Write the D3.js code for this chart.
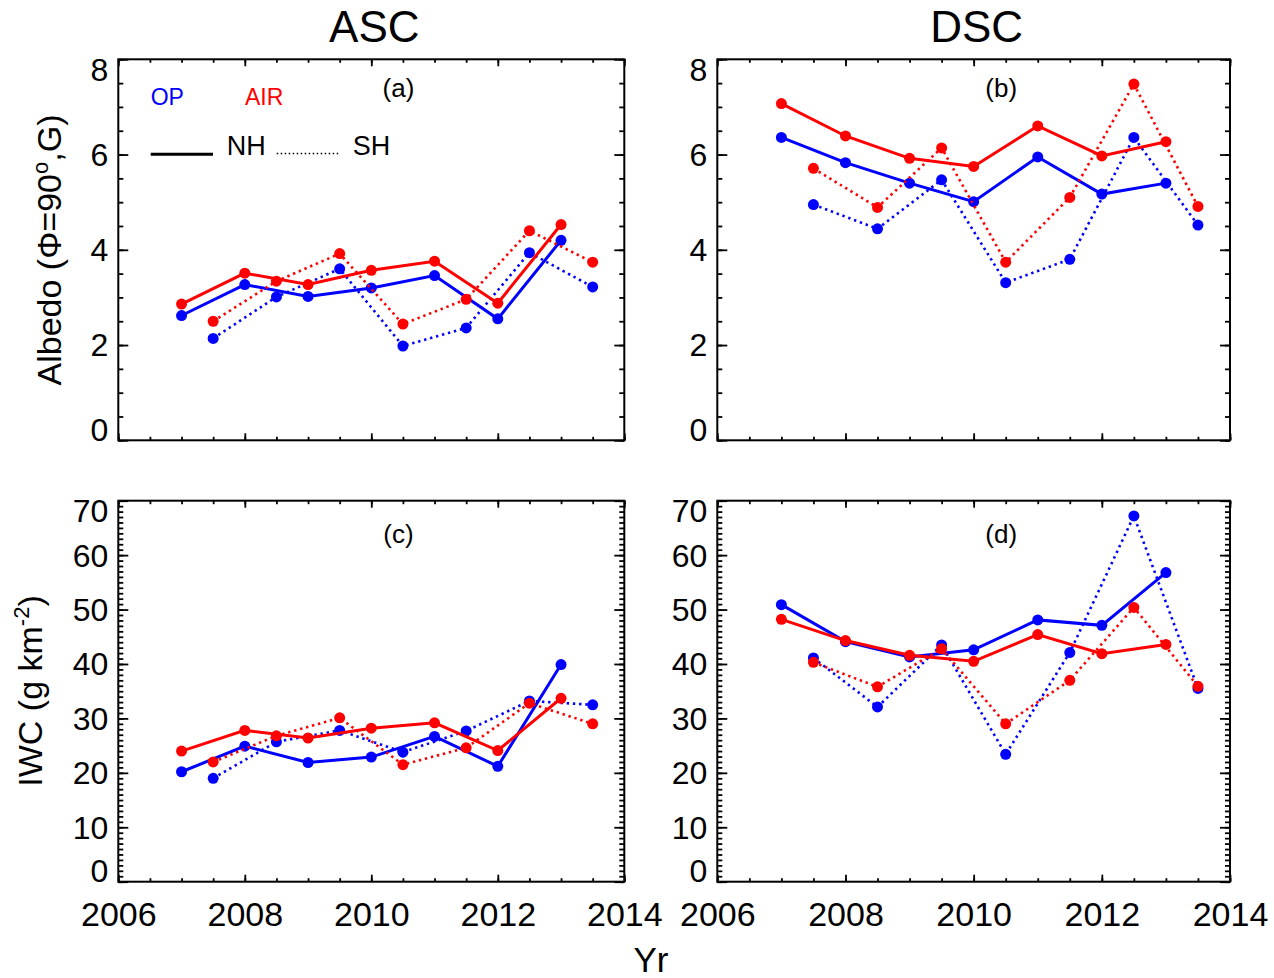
<!DOCTYPE html>
<html>
<head>
<meta charset="utf-8">
<script src="https://cdn.jsdelivr.net/npm/d3@7"></script>
<style>
  body { margin: 0; background: #fff; }
  text { font-family: "Liberation Sans", Arial, Helvetica, sans-serif; }
</style>
</head>
<body>
<div id="chart"></div>
<script>
// years: NH values sit on whole years, SH values on half years
var yearsNH = [2007, 2008, 2009, 2010, 2011, 2012, 2013];
var yearsSH = [2007.5, 2008.5, 2009.5, 2010.5, 2011.5, 2012.5, 2013.5];

// (a) albedo, ASC
var albAscOpNH  = [2.62, 3.27, 3.02, 3.20, 3.46, 2.55, 4.20];
var albAscAirNH = [2.86, 3.51, 3.27, 3.57, 3.76, 2.88, 4.53];
var albAscOpSH  = [2.14, 3.01, 3.60, 1.98, 2.36, 3.94, 3.22];
var albAscAirSH = [2.50, 3.34, 3.92, 2.44, 2.96, 4.40, 3.74];

// (b) albedo, DSC
var albDscOpNH  = [6.36, 5.83, 5.40, 5.01, 5.95, 5.17, 5.40];
var albDscAirNH = [7.07, 6.39, 5.92, 5.75, 6.60, 5.97, 6.27];
var albDscOpSH  = [4.95, 4.44, 5.47, 3.31, 3.80, 6.36, 4.52];
var albDscAirSH = [5.71, 4.89, 6.14, 3.74, 5.10, 7.48, 4.91];

// (c) IWC, ASC
var iwcAscOpNH  = [20.2, 24.9, 21.9, 22.9, 26.7, 21.2, 39.9];
var iwcAscAirNH = [24.0, 27.8, 26.4, 28.2, 29.2, 24.1, 33.7];
var iwcAscOpSH  = [19.0, 25.7, 27.8, 23.8, 27.7, 33.2, 32.5];
var iwcAscAirSH = [22.0, 26.8, 30.1, 21.5, 24.6, 32.8, 29.0];

// (d) IWC, DSC
var iwcDscOpNH  = [50.9, 44.1, 41.3, 42.6, 48.1, 47.1, 56.8];
var iwcDscAirNH = [48.2, 44.3, 41.6, 40.5, 45.4, 41.9, 43.6];
var iwcDscOpSH  = [41.1, 32.1, 43.5, 23.4, 42.1, 67.2, 35.5];
var iwcDscAirSH = [40.3, 35.8, 42.8, 29.0, 37.0, 50.4, 35.9];

// tick labels
var xTicks = [2006, 2008, 2010, 2012, 2014];
var albTicks = [0, 2, 4, 6, 8];
var iwcTicks = [0, 10, 20, 30, 40, 50, 60, 70];
var colTitles = ["ASC", "DSC"];
var panelTags = ["(a)", "(b)", "(c)", "(d)"];

var svgWidth = 1274;
var svgHeight = 978;

var BLUE = "#0000ff";
var RED = "#ff0000";

var svg = d3.select("#chart")
  .append("svg")
  .attr("width", svgWidth)
  .attr("height", svgHeight);

// panel boxes (pixels)
var cols = [{ left: 118.3, right: 624.3 }, { left: 717.3, right: 1230 }];
var rows = [{ top: 59.3, bottom: 440.3 }, { top: 500.7, bottom: 881.7 }];

var panels = [
  { col: 0, row: 0, tag: panelTags[0], yMax: 8, yTicks: albTicks, yMinor: 0.5, tagY: 7.2,
    series: [[yearsNH, albAscOpNH, BLUE, false], [yearsSH, albAscOpSH, BLUE, true],
             [yearsNH, albAscAirNH, RED, false], [yearsSH, albAscAirSH, RED, true]] },
  { col: 1, row: 0, tag: panelTags[1], yMax: 8, yTicks: albTicks, yMinor: 0.5, tagY: 7.2,
    series: [[yearsNH, albDscOpNH, BLUE, false], [yearsSH, albDscOpSH, BLUE, true],
             [yearsNH, albDscAirNH, RED, false], [yearsSH, albDscAirSH, RED, true]] },
  { col: 0, row: 1, tag: panelTags[2], yMax: 70, yTicks: iwcTicks, yMinor: 1, tagY: 62.3,
    series: [[yearsNH, iwcAscOpNH, BLUE, false], [yearsSH, iwcAscOpSH, BLUE, true],
             [yearsNH, iwcAscAirNH, RED, false], [yearsSH, iwcAscAirSH, RED, true]] },
  { col: 1, row: 1, tag: panelTags[3], yMax: 70, yTicks: iwcTicks, yMinor: 1, tagY: 62.3,
    series: [[yearsNH, iwcDscOpNH, BLUE, false], [yearsSH, iwcDscOpSH, BLUE, true],
             [yearsNH, iwcDscAirNH, RED, false], [yearsSH, iwcDscAirSH, RED, true]] }
];

var xMinorVals = d3.range(2006, 2014.01, 0.5);

function styleAxis(g, size) {
  g.select(".domain").remove();
  g.selectAll(".tick line").attr("stroke", "#000").attr("stroke-width", 1.8);
  g.selectAll(".tick text")
    .attr("fill", "#000")
    .attr("font-size", size)
    .attr("font-family", "'Liberation Sans', Arial, Helvetica, sans-serif");
}

panels.forEach(function(p) {
  var c = cols[p.col], r = rows[p.row];
  var x = d3.scaleLinear().domain([2006, 2014]).range([c.left, c.right]);
  var y = d3.scaleLinear().domain([0, p.yMax]).range([r.bottom, r.top]);
  var yMinorVals = d3.range(0, p.yMax + 0.001, p.yMinor);
  var g = svg.append("g");

  // x axes, ticks pointing inward
  g.append("g").attr("transform", `translate(0, ${r.bottom})`)
    .call(d3.axisBottom(x).tickValues(xMinorVals).tickSize(-3.5).tickSizeOuter(0).tickFormat(""))
    .call(styleAxis, 34);
  g.append("g").attr("transform", `translate(0, ${r.bottom})`)
    .call(d3.axisBottom(x).tickValues(xTicks).tickSize(-7).tickSizeOuter(0).tickPadding(20)
      .tickFormat(p.row === 1 ? d3.format("d") : ""))
    .call(styleAxis, 34);
  g.append("g").attr("transform", `translate(0, ${r.top})`)
    .call(d3.axisTop(x).tickValues(xMinorVals).tickSize(-3.5).tickSizeOuter(0).tickFormat(""))
    .call(styleAxis, 34);
  g.append("g").attr("transform", `translate(0, ${r.top})`)
    .call(d3.axisTop(x).tickValues(xTicks).tickSize(-7).tickSizeOuter(0).tickFormat(""))
    .call(styleAxis, 34);

  // y axes
  g.append("g").attr("transform", `translate(${c.left}, 0)`)
    .call(d3.axisLeft(y).tickValues(yMinorVals).tickSize(-5).tickSizeOuter(0).tickFormat(""))
    .call(styleAxis, 32);
  var yl = g.append("g").attr("transform", `translate(${c.left}, 0)`)
    .call(d3.axisLeft(y).tickValues(p.yTicks).tickSize(-10).tickSizeOuter(0).tickPadding(10)
      .tickFormat(d3.format("d")))
    .call(styleAxis, 32);
  // end labels are kept inside the box
  yl.selectAll(".tick text").attr("dy", function(d) {
    if (d === p.yMax) return "0.66em";
    if (d === 0) return "0em";
    return "0.34em";
  });
  g.append("g").attr("transform", `translate(${c.right}, 0)`)
    .call(d3.axisRight(y).tickValues(yMinorVals).tickSize(-5).tickSizeOuter(0).tickFormat(""))
    .call(styleAxis, 32);
  g.append("g").attr("transform", `translate(${c.right}, 0)`)
    .call(d3.axisRight(y).tickValues(p.yTicks).tickSize(-10).tickSizeOuter(0).tickFormat(""))
    .call(styleAxis, 32);

  // frame
  g.append("rect")
    .attr("x", c.left).attr("y", r.top)
    .attr("width", c.right - c.left).attr("height", r.bottom - r.top)
    .attr("fill", "none").attr("stroke", "#000").attr("stroke-width", 2);

  // series
  p.series.forEach(function(s) {
    var pts = s[0].map(function(yr, i) { return [yr, s[1][i]]; });
    var line = d3.line().x(d => x(d[0])).y(d => y(d[1]));
    g.append("path")
      .datum(pts)
      .attr("d", line)
      .attr("fill", "none")
      .attr("stroke", s[2])
      .attr("stroke-width", s[3] ? 2.6 : 3)
      .attr("stroke-dasharray", s[3] ? "2.4,3.8" : null);
    g.append("g").selectAll("circle")
      .data(pts)
      .enter()
      .append("circle")
      .attr("cx", d => x(d[0]))
      .attr("cy", d => y(d[1]))
      .attr("r", 5.5)
      .attr("fill", s[2]);
  });

  // panel tag
  g.append("text")
    .attr("x", x(2010.43))
    .attr("y", y(p.tagY))
    .attr("text-anchor", "middle")
    .attr("font-size", 26)
    .text(p.tag);

  // column titles
  if (p.row === 0) {
    svg.append("text")
      .attr("x", (c.left + c.right) / 2 + 3)
      .attr("y", 42)
      .attr("text-anchor", "middle")
      .attr("font-size", 44)
      .text(colTitles[p.col]);
  }
});

// y axis labels
var albLabel = svg.append("text")
  .attr("transform", "translate(61, 250) rotate(-90)")
  .attr("text-anchor", "middle")
  .attr("font-size", 34);
albLabel.append("tspan").text("Albedo (\u03A6=90");
albLabel.append("tspan").attr("dy", -13).attr("font-size", 22).text("o");
albLabel.append("tspan").attr("dy", 13).text(",G)");

var iwcLabel = svg.append("text")
  .attr("transform", "translate(42, 691) rotate(-90)")
  .attr("text-anchor", "middle")
  .attr("font-size", 34);
iwcLabel.append("tspan").text("IWC (g km");
iwcLabel.append("tspan").attr("dy", -13).attr("font-size", 22).text("-2");
iwcLabel.append("tspan").attr("dy", 13).text(")");

// x axis title
svg.append("text")
  .attr("x", 651)
  .attr("y", 972)
  .attr("text-anchor", "middle")
  .attr("font-size", 35)
  .text("Yr");

// legend in panel (a)
var leg = svg.append("g");
leg.append("text").attr("x", 150.7).attr("y", 105).attr("font-size", 23).attr("fill", BLUE).text("OP");
leg.append("text").attr("x", 245).attr("y", 105).attr("font-size", 23).attr("fill", RED).text("AIR");
leg.append("line").attr("x1", 150.7).attr("x2", 213).attr("y1", 154.3).attr("y2", 154.3)
  .attr("stroke", "#000").attr("stroke-width", 3);
leg.append("text").attr("x", 226.7).attr("y", 155).attr("font-size", 27).text("NH");
leg.append("line").attr("x1", 276.7).attr("x2", 340).attr("y1", 153.5).attr("y2", 153.5)
  .attr("stroke", "#000").attr("stroke-width", 1.6).attr("stroke-dasharray", "1.5,2.5");
leg.append("text").attr("x", 352.7).attr("y", 155).attr("font-size", 27).text("SH");
</script>
</body>
</html>
